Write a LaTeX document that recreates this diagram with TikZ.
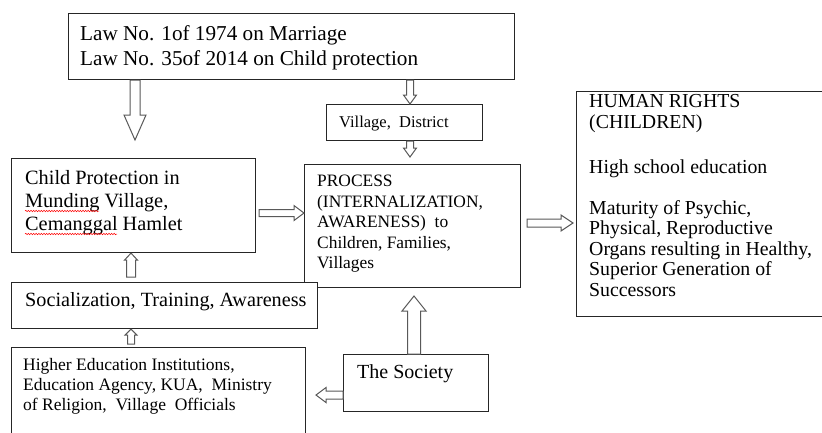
\documentclass[tikz,border=0pt]{standalone}
\usepackage{fontspec}
\setmainfont{Liberation Serif}
\usetikzlibrary{calc,decorations.pathmorphing}
\tikzset{
  box/.style={draw=black!85, line width=1.1pt, fill=white, anchor=north west, inner sep=0pt},
  txt/.style={anchor=north west, inner sep=0pt, align=left, text=black},
  stxt/.style={anchor=base west, inner sep=0pt, text=black},
  arr/.style={draw=black!65, line width=1pt, fill=white, line join=miter},
  blk/.style n args={3}{to path={
    ($(\tikztotarget)!#3!(\tikztostart)$) coordinate (bkh)
    ($(\tikztostart)!#1!90:(\tikztotarget)$) -- ($(bkh)!#1!90:(\tikztotarget)$)
    -- ($(bkh)!#2!90:(\tikztotarget)$) -- (\tikztotarget)
    -- ($(bkh)!#2!-90:(\tikztotarget)$) -- ($(bkh)!#1!-90:(\tikztotarget)$)
    -- ($(\tikztostart)!#1!-90:(\tikztotarget)$) -- cycle}},
  wavy/.style={draw=red, line width=0.5pt, decorate,
    decoration={snake, amplitude=0.7pt, segment length=2.6pt}},
}
\begin{document}
\begin{tikzpicture}[x=1pt,y=-1pt]
\useasboundingbox (0,0) rectangle (822,432);
\clip (0,0) rectangle (822,432);
\fill[white] (0,0) rectangle (822,432);

% boxes
\node[box, minimum width=446pt, minimum height=66pt] (law) at (68,13) {};
\node[box, minimum width=156pt, minimum height=36pt] (vill) at (326,104) {};
\node[box, minimum width=244pt, minimum height=94pt] (childp) at (11,158) {};
\node[box, minimum width=216pt, minimum height=123pt] (proc) at (304,164) {};
\node[box, minimum width=260pt, minimum height=225pt] (hr) at (576,91) {};
\node[box, minimum width=306pt, minimum height=46pt] (soc) at (11,282) {};
\node[box, minimum width=294pt, minimum height=95pt] (hei) at (11,347) {};
\node[box, minimum width=145pt, minimum height=57pt] (soci) at (343,354) {};

% texts
\node[txt, font={\fontsize{21.2}{24.5}\selectfont}] (lawt) at (80,25.8)
  {Law No. 1of 1974 on Marriage\\Law No. 35of 2014 on Child protection};
\node[stxt, font={\fontsize{16.5}{19}\selectfont}] (villt) at (339,127.5)
  {Village,\ \ District};
\node[txt, font={\fontsize{20.3}{23}\selectfont}] (childt) at (25,169.8)
  {Child Protection in\\Munding Village,\\Cemanggal Hamlet};
\node[txt, font={\fontsize{17.4}{20.5}\selectfont}] (proct) at (317,174.8)
  {PROCESS\\(INTERNALIZATION,\\AWARENESS)\ \ to\\Children, Families,\\Villages};
\node[txt, font={\fontsize{19.8}{20.5}\selectfont}] (hrt) at (589,94.5)
  {HUMAN RIGHTS\\(CHILDREN)\\[24.5pt]High school education\\[20.5pt]Maturity of Psychic,\\Physical, Reproductive\\Organs resulting in Healthy,\\Superior Generation of\\Successors};
\node[stxt, font={\fontsize{20.2}{23}\selectfont}] (soct) at (25,306.6)
  {Socialization, Training, Awareness};
\node[txt, font={\fontsize{17.5}{20}\selectfont}] (heit) at (23,358)
  {Higher Education Institutions,\\Education Agency, KUA,\ \ Ministry\\of Religion,\ \ Village\ \ Officials};
\node[stxt, font={\fontsize{20}{23}\selectfont}] (socit) at (357,378.6)
  {The Society};

% spell-check underlines
\draw[wavy] (25,211) -- (99,211);
\draw[wavy] (25,234) -- (117,234);

% block arrows
\coordinate (a1t) at (135,140);
\draw[arr] (law.south -| a1t) to[blk={5pt}{11pt}{25pt}] (a1t);
\coordinate (cx) at (410,0);
\draw[arr] (law.south -| cx) to[blk={3.5pt}{6.5pt}{9pt}] (vill.north -| cx);
\coordinate (a3t) at (410,157);
\draw[arr] (vill.south -| cx) to[blk={3.5pt}{6.5pt}{9pt}] (a3t);
\coordinate (a4s) at (259,213);
\draw[arr] (a4s) to[blk={3.5pt}{7.5pt}{10pt}] (proc.west |- a4s);
\coordinate (a5s) at (proc.east |- 0,223);
\coordinate (a5t) at (573,223);
\draw[arr] ([xshift=6pt]a5s) to[blk={4pt}{8pt}{12pt}] (a5t);
\coordinate (a6s) at (131,277);
\draw[arr] (a6s) to[blk={4.5pt}{6.5pt}{7pt}] (childp.south -| a6s);
\coordinate (a7s) at (131,344);
\draw[arr] (a7s) to[blk={3.5pt}{6pt}{6pt}] (soc.south -| a7s);
\coordinate (a8t) at (414,296);
\draw[arr] (soci.north -| a8t) to[blk={6.5pt}{12pt}{15pt}] (a8t);
\coordinate (a9t) at (316,395);
\draw[arr] (soci.west |- a9t) to[blk={4pt}{7.5pt}{10pt}] (a9t);
\end{tikzpicture}
\end{document}
